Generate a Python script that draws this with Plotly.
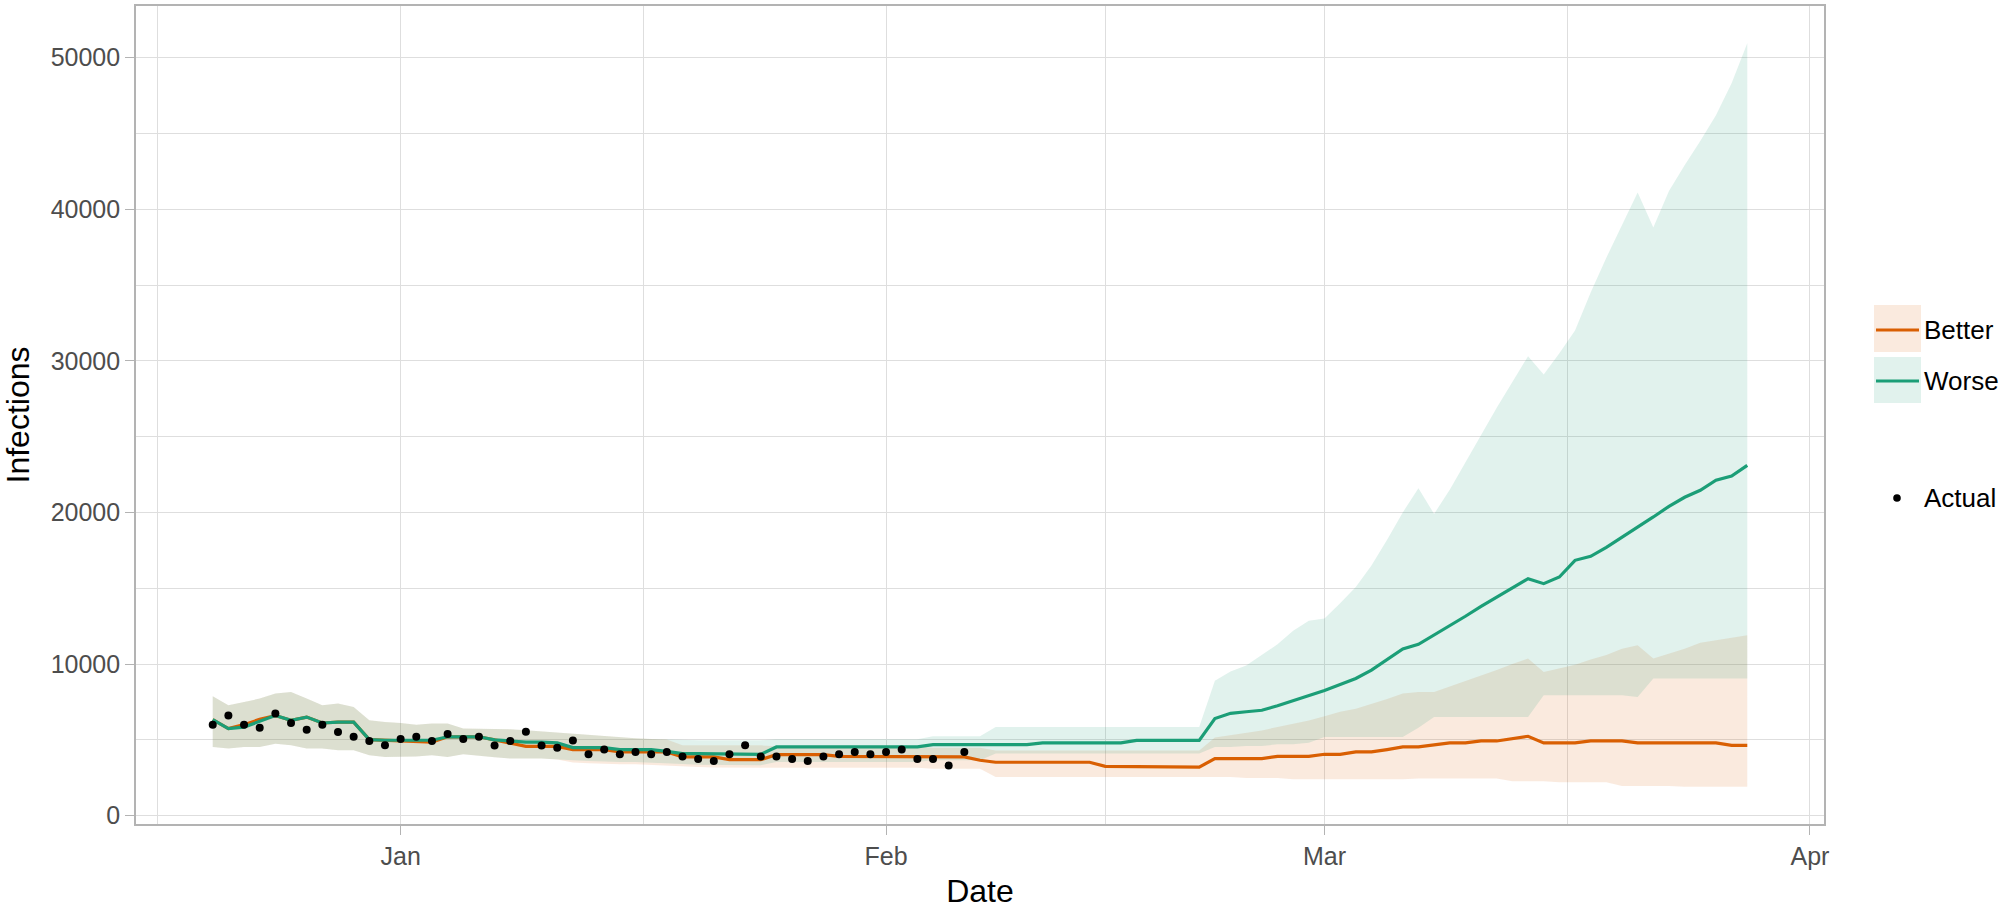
import pandas as pd
import plotly.graph_objects as go

# ---------------- data ----------------
start_date = "2020-12-20"
end_date = "2021-03-28"
actual_end = "2021-02-06"

scenario_names = ["Better", "Worse"]

worse_median = [
    6330, 5740, 5840, 6220, 6600, 6290, 6500, 6110, 6170, 6170,
    5010, 4970, 4970, 4970, 4970, 5200, 5200, 5200, 5000,
    4900, 4850, 4850, 4800, 4490, 4490, 4490, 4350, 4350, 4350,
    4240, 4090, 4090, 4090, 4040, 4040, 4040, 4530,
    4530, 4530, 4530, 4530, 4530, 4530, 4530, 4530, 4530,
    4680, 4680, 4680, 4680, 4680, 4680, 4680,
    4800, 4800, 4800, 4800, 4800, 4800,
    4960, 4960, 4960, 4960, 4960,
    6400, 6750, 6850, 6950, 7250, 7580, 7900, 8260, 8650, 9050,
    9600, 10300, 11000, 11300, 11900, 12500, 13150, 13800, 14420, 15000,
    15630, 15300, 15740, 16840, 17100, 17700, 18350, 19000, 19700, 20400,
    21000, 21460, 22120, 22400, 23100,
]
worse_upper = [
    7870, 7280, 7490, 7720, 8050, 8150, 7720, 7280, 7390, 7160,
    6290, 6170, 6110, 6000, 6070, 6070, 5740, 5740, 5740,
    5700, 5627, 5550, 5450, 5363, 5300, 5220, 5145, 5100, 5050,
    5013, 4967, 4967, 4967, 4967, 4967, 4967, 5033,
    5033, 5033, 5033, 5033, 5033, 5033, 5033, 5033, 5033,
    5231, 5231, 5231, 5231, 5844, 5844, 5844,
    5844, 5844, 5844, 5844, 5844, 5844,
    5844, 5844, 5844, 5844, 5844,
    8900, 9500, 9900, 10600, 11300, 12200, 12850, 13000, 14000, 15080,
    16500, 18200, 20000, 21600, 19900, 21500, 23300, 25100, 26900, 28600,
    30300, 29100, 30500, 32000, 34500, 36800, 39000, 41100, 38800, 41200,
    42900, 44500, 46200, 48300, 50950,
]
worse_lower = [
    4525, 4420, 4525, 4525, 4749, 4637, 4420, 4420, 4307, 4307,
    3978, 3868, 3868, 3900, 3978, 3868, 4044, 3950, 3850,
    3760, 3760, 3760, 3700, 3650, 3600, 3560, 3540, 3540, 3500,
    3450, 3400, 3350, 3320, 3320, 3320, 3320, 3540,
    3540, 3540, 3540, 3540, 3540, 3540, 3540, 3540, 3540,
    3650, 3650, 3650, 3650, 4090, 4090, 4090,
    4090, 4090, 4090, 4090, 4090, 4090,
    4090, 4090, 4090, 4090, 4090,
    4525, 4525, 4600, 4600, 4700, 4700, 4800, 5186, 5186, 5186,
    5186, 5186, 5186, 5800, 6503, 6503, 6503, 6503, 6503, 6503,
    6503, 7935, 7935, 7935, 7935, 7935, 7935, 7825, 9037, 9037,
    9037, 9037, 9037, 9037, 9037,
]
better_median = [
    6330, 5740, 6000, 6350, 6600, 6290, 6500, 6110, 6170, 6170,
    5010, 4970, 4900, 4850, 4850, 5200, 5200, 5200, 5000,
    4800, 4570, 4570, 4570, 4350, 4350, 4350, 4195, 4195, 4195,
    4195, 3870, 3870, 3870, 3694, 3694, 3694, 4024,
    4024, 4024, 4024, 3912, 3912, 3912, 3912, 3912, 3912,
    3870, 3870, 3870, 3650, 3520, 3520, 3520,
    3520, 3520, 3520, 3520, 3250, 3250,
    3250, 3200, 3200, 3200, 3200,
    3760, 3760, 3760, 3760, 3913, 3913, 3913, 4046, 4046, 4200,
    4200, 4354, 4530, 4530, 4640, 4794, 4794, 4925, 4925, 5101,
    5233, 4794, 4794, 4794, 4925, 4925, 4925, 4794, 4794, 4794,
    4794, 4794, 4794, 4640, 4640,
]
better_upper = [
    7870, 7280, 7490, 7720, 8050, 8150, 7720, 7280, 7390, 7160,
    6290, 6170, 6110, 6000, 6070, 6070, 5740, 5740, 5740,
    5700, 5627, 5550, 5450, 5363, 5300, 5220, 5145, 5100, 5050,
    5013, 4637, 4637, 4637, 4637, 4637, 4637, 4571,
    4571, 4571, 4571, 4571, 4571, 4571, 4571, 4571, 4571,
    4485, 4485, 4485, 4485, 4300, 4300, 4300,
    4300, 4300, 4300, 4300, 4300, 4300,
    4300, 4300, 4300, 4300, 4300,
    5150, 5300, 5450, 5620, 5850, 6050, 6280, 6550, 6850, 7050,
    7350, 7700, 8050, 8150, 8150, 8500, 8850, 9200, 9600, 10000,
    10356, 9472, 9700, 9950, 10300, 10600, 11000, 11233, 10356, 10700,
    11000, 11400, 11550, 11700, 11893,
]
better_lower = [
    4525, 4420, 4525, 4525, 4749, 4637, 4420, 4420, 4307, 4307,
    3978, 3868, 3868, 3900, 3978, 3868, 4044, 3950, 3850,
    3760, 3760, 3760, 3700, 3500, 3450, 3410, 3390, 3390, 3350,
    3300, 3250, 3200, 3170, 3170, 3170, 3170, 3150,
    3150, 3150, 3150, 3150, 3150, 3150, 3150, 3150, 3150,
    3100, 3100, 3100, 3100, 2546, 2546, 2546,
    2546, 2546, 2546, 2546, 2546, 2546,
    2546, 2546, 2546, 2546, 2546,
    2546, 2546, 2480, 2480, 2480, 2400, 2400, 2400, 2400, 2400,
    2400, 2400, 2400, 2450, 2450, 2450, 2450, 2450, 2450, 2260,
    2260, 2260, 2200, 2200, 2200, 2200, 1950, 1950, 1950, 1950,
    1900, 1900, 1900, 1900, 1900,
]
actual_values = [
    6000, 6600, 6000, 5800, 6730, 6110, 5670, 6000, 5520, 5210, 4920, 4640,
    5050, 5210, 4920, 5380, 5050, 5210, 4620, 4930, 5530, 4630, 4485, 4947,
    4044, 4354, 4044, 4195, 4044, 4195, 3892, 3734, 3602, 4044, 4637, 3892,
    3892, 3734, 3602, 3892, 4044, 4195, 4044,
    4195, 4354, 3734, 3734, 3298, 4195,
]
month_ticks = ["2021-01-01", "2021-02-01", "2021-03-01", "2021-04-01"]

# ---------------- styling ----------------
colors = {"Better": "#D95F02", "Worse": "#1B9E77"}
fills = {"Better": "rgba(217,95,2,0.13)", "Worse": "rgba(27,158,119,0.13)"}
FONT = "Liberation Sans, Arial, sans-serif"
GRID = "#DEDEDE"
BORDER = "#B3B3B3"
TICK_SIZE = 25
TITLE_SIZE = 32
LEGEND_SIZE = 26

dates = pd.date_range(start_date, end_date, freq="D")
actual_dates = pd.date_range(start_date, actual_end, freq="D")
series = {
    "Better": (better_median, better_lower, better_upper),
    "Worse": (worse_median, worse_lower, worse_upper),
}

fig = go.Figure()
xs = list(dates)
for name in scenario_names:
    med, lo, hi = series[name]
    fig.add_trace(go.Scatter(
        x=xs + xs[::-1], y=list(hi) + list(lo)[::-1],
        fill="toself", fillcolor=fills[name], line=dict(width=0),
        mode="lines", hoverinfo="skip", showlegend=False))
for name in scenario_names:
    med, lo, hi = series[name]
    fig.add_trace(go.Scatter(
        x=xs, y=med, mode="lines", name=name,
        line=dict(color=colors[name], width=3.2), showlegend=False))
fig.add_trace(go.Scatter(
    x=list(actual_dates), y=actual_values, mode="markers", name="Actual",
    marker=dict(color="black", size=8), showlegend=False))

# ggplot-like 5% expansion
span = dates[-1] - dates[0]
x_range = [dates[0] - 0.05 * span, dates[-1] + 0.05 * span]
all_y = better_lower + better_upper + worse_lower + worse_upper + actual_values
ymin, ymax = min(all_y), max(all_y)
y_range = [ymin - 0.05 * (ymax - ymin), ymax + 0.05 * (ymax - ymin)]

month_starts = pd.date_range("2020-12-01", "2021-04-01", freq="MS")
minor_x = [month_starts[i] + (month_starts[i + 1] - month_starts[i]) / 2
           for i in range(len(month_starts) - 1)]
tickvals = pd.to_datetime(month_ticks)

fig.update_layout(
    width=2008, height=909,
    margin=dict(l=136, r=184, t=6, b=85, autoexpand=False),
    paper_bgcolor="white", plot_bgcolor="white",
    font=dict(family=FONT, size=TICK_SIZE, color="#4D4D4D"),
    showlegend=False,
)
fig.update_xaxes(
    range=x_range, tickvals=list(tickvals), ticktext=[d.strftime("%b") for d in tickvals],
    showgrid=True, gridcolor=GRID, gridwidth=1.3,
    minor=dict(tickmode="array", tickvals=minor_x, showgrid=True, gridcolor=GRID, gridwidth=0.8),
    showline=True, mirror=True, linecolor=BORDER, linewidth=1.6,
    ticks="outside", ticklen=9, tickcolor=BORDER, tickwidth=1.3,
    tickfont=dict(size=TICK_SIZE, color="#4D4D4D"),
    title=dict(text="Date", font=dict(size=TITLE_SIZE, color="black"), standoff=15),
    zeroline=False,
)
fig.update_yaxes(
    range=y_range, tickvals=[0, 10000, 20000, 30000, 40000, 50000], tickformat="d",
    showgrid=True, gridcolor=GRID, gridwidth=1.3,
    minor=dict(dtick=5000, showgrid=True, gridcolor=GRID, gridwidth=0.8),
    showline=True, mirror=True, linecolor=BORDER, linewidth=1.6,
    ticks="outside", ticklen=9, tickcolor=BORDER, tickwidth=1.3,
    tickfont=dict(size=TICK_SIZE, color="#4D4D4D"),
    title=dict(text="Infections", font=dict(size=TITLE_SIZE, color="black"), standoff=16),
    zeroline=False,
)

# manual ggplot-style legend (paper coordinates)
W, H = 1688.0, 818.0
def px(x): return (x - 136) / W
def py(y): return (824 - y) / H

legend_rows = [("Better", 305, 352, 330), ("Worse", 357, 403, 381)]
for name, top, bot, mid in legend_rows:
    fig.add_shape(type="rect", xref="paper", yref="paper",
                  x0=px(1874), x1=px(1921), y0=py(bot), y1=py(top),
                  fillcolor=fills[name], line=dict(width=0), layer="above")
    fig.add_shape(type="line", xref="paper", yref="paper",
                  x0=px(1876), x1=px(1919), y0=py(mid), y1=py(mid),
                  line=dict(color=colors[name], width=3.2), layer="above")
    fig.add_annotation(text=name, xref="paper", yref="paper", x=px(1922), y=py(mid),
                       xanchor="left", yanchor="middle", showarrow=False,
                       font=dict(size=LEGEND_SIZE, color="black", family=FONT))
fig.add_shape(type="circle", xref="paper", yref="paper", xsizemode="pixel", ysizemode="pixel",
              xanchor=px(1897), yanchor=py(498), x0=-3.8, x1=3.8, y0=-3.8, y1=3.8,
              fillcolor="black", line=dict(width=0), layer="above")
fig.add_annotation(text="Actual", xref="paper", yref="paper", x=px(1922), y=py(498),
                   xanchor="left", yanchor="middle", showarrow=False,
                   font=dict(size=LEGEND_SIZE, color="black", family=FONT))

fig.write_html("out.html", config={"displayModeBar": False},
               post_script="document.body.style.margin='0px';")
